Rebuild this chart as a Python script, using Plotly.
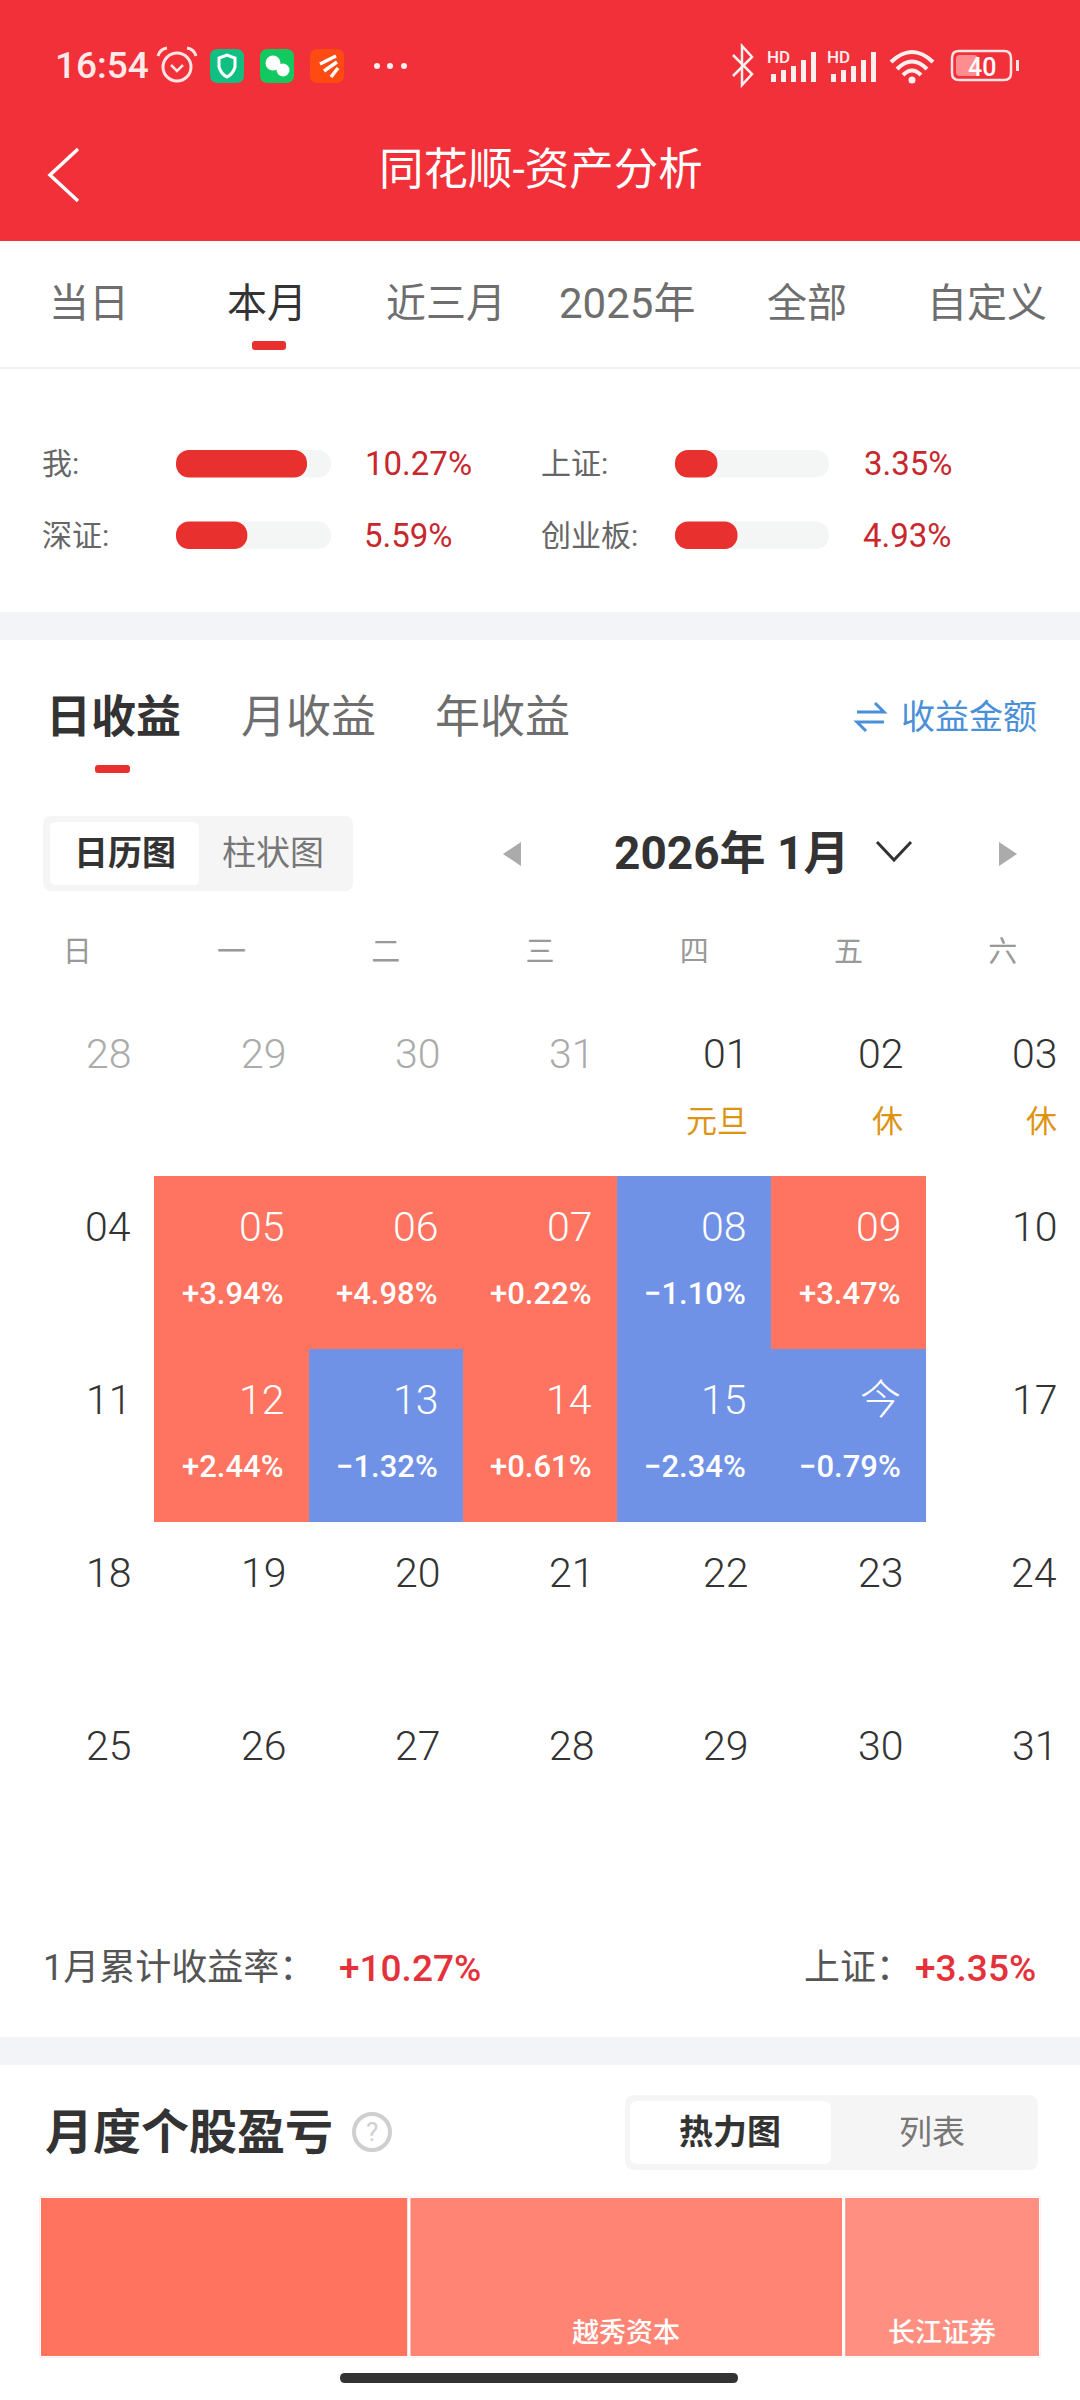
import plotly.graph_objects as go

W, H = 1080, 2400
CJK = "Noto Sans CJK SC"
FONT = "Roboto, 'Noto Sans CJK SC', sans-serif"
RED_TOP = "#F2303A"
BAND = "#F3F4F7"

# 1. Data
tabs = ["当日", "本月", "近三月", "2025年", "全部", "自定义"]
compare_names = ["我:", "深证:", "上证:", "创业板:"]
compare_values = [10.27, 5.59, 3.35, 4.93]
compare_axis_max = 12.15

weekdays = ["日", "一", "二", "三", "四", "五", "六"]
day_labels = [
    ["28", "29", "30", "31", "01", "02", "03"],
    ["04", "05", "06", "07", "08", "09", "10"],
    ["11", "12", "13", "14", "15", "今", "17"],
    ["18", "19", "20", "21", "22", "23", "24"],
    ["25", "26", "27", "28", "29", "30", "31"],
]
day_returns = [
    [None, None, None, None, None, None, None],
    [None, 3.94, 4.98, 0.22, -1.10, 3.47, None],
    [None, 2.44, -1.32, 0.61, -2.34, -0.79, None],
    [None, None, None, None, None, None, None],
    [None, None, None, None, None, None, None],
]
holidays = {(0, 4): "元旦", (0, 5): "休", (0, 6): "休"}
grey_days = [(0, 0), (0, 1), (0, 2), (0, 3)]

stock_names = ["", "越秀资本", "长江证券"]
stock_weights = [368, 433, 196]
stock_colors = ["#FF735F", "#FF8474", "#FF9081"]


def rr(x0, y0, x1, y1, r):
    return (f"M{x0+r},{y0} L{x1-r},{y0} Q{x1},{y0} {x1},{y0+r} L{x1},{y1-r} Q{x1},{y1} {x1-r},{y1} "
            f"L{x0+r},{y1} Q{x0},{y1} {x0},{y1-r} L{x0},{y0+r} Q{x0},{y0} {x0+r},{y0} Z")


shapes = []
annots = []


def box(x0, y0, x1, y1, color):
    shapes.append(dict(type="rect", x0=x0, y0=y0, x1=x1, y1=y1, fillcolor=color, line_width=0, xref="x", yref="y"))


def round_box(x0, y0, x1, y1, r, color, line=None, lw=0):
    shapes.append(dict(type="path", path=rr(x0, y0, x1, y1, r), fillcolor=color, xref="x", yref="y",
                       line=dict(color=line or "rgba(0,0,0,0)", width=lw)))


def stroke(path, color, width):
    shapes.append(dict(type="path", path=path, xref="x", yref="y", line=dict(color=color, width=width)))


def dot(cx, cy, r, fill, line=None, lw=0):
    shapes.append(dict(type="circle", x0=cx-r, x1=cx+r, y0=cy-r, y1=cy+r, fillcolor=fill, xref="x", yref="y",
                       line=dict(color=line or "rgba(0,0,0,0)", width=lw)))


def label(x, y, text, size, color, anchor="center", weight=400, family=FONT):
    annots.append(dict(x=x, y=y, xref="x", yref="y", text=text, showarrow=False, xanchor=anchor, yanchor="middle",
                       font=dict(size=size, color=color, family=family, weight=weight)))


# 2. Phone chrome
box(0, 0, W, 241, RED_TOP)
label(53, 65, "16:54", 37, "#FFE9E9", "left", 500)
# alarm clock
dot(177, 67, 14, "rgba(0,0,0,0)", "#FFE4E4", 3)
stroke("M158,56 Q160,49 167,48", "#FFE4E4", 3)
stroke("M187,48 Q194,49 196,56", "#FFE4E4", 3)
stroke("M171,65 L177,71 L183,65", "#FFE4E4", 2.5)
# app icons
round_box(210, 49, 244, 83, 8, "#12BF83")
stroke("M219,58 L227,55 L235,58 L235,67 Q233,74 227,77 Q221,74 219,67 Z", "#FFFFFF", 3)
round_box(260, 49, 294, 83, 8, "#12C95F")
dot(273, 63, 7.5, "#FFFFFF")
dot(283, 70, 6.5, "#FFFFFF")
round_box(310, 49, 344, 83, 8, "#FF4A12")
stroke("M320,64 L336,56 M324,71 L337,62 M331,77 L338,68", "#FFFFFF", 3.5)
for dx in [377, 390, 404]:
    dot(dx, 66, 3, "#FFF0F0")
# bluetooth
stroke("M733,55 L752,74 L742,85 L742,46 L752,57 L733,76", "#FFF0F0", 2.5)
# signal groups
for x0 in [770, 830]:
    label(x0 + 8, 57, "HD", 17, "#FFF0F0", "center", 500)
    for i, top in enumerate([74, 70, 66, 60, 52]):
        box(x0 + 1 + i * 10, top, x0 + 6 + i * 10, 82, "#FFF0F0")
# wifi
stroke("M891,62 Q912,42 933,62", "#FFF0F0", 4)
stroke("M897,69 Q912,54 927,69", "#FFF0F0", 4)
stroke("M903,75 Q912,66 921,75", "#FFF0F0", 4)
dot(912, 80, 3.5, "#FFF0F0")
# battery
round_box(952, 51, 1011, 80, 7, "rgba(0,0,0,0)", "#FFE4E4", 2.5)
round_box(956, 55, 978, 76, 4, "#FF8D8F")
box(1016, 60, 1019, 71, "#FFE4E4")
label(982, 67, "40", 25, "#FFFFFF", "center", 500)

stroke("M78,149 L50,175 L78,201", "#FFFFFF", 3.5)
label(541, 170, "同花顺-资产分析", 44.5, "#FFFFFF")

# 3. Period tabs
for name, cx in zip(tabs, [89, 267, 446, 627, 807, 987]):
    label(cx, 303, name, 42 if name == "2025年" else 40, "#333333" if name == "本月" else "#6E6E6E")
round_box(252, 341, 286, 350, 3, "#E8302F")
box(0, 367, W, 369, "#F1F1F3")

# comparison row text, bars come from traces below
for name, val, lx, vx, cy in zip(compare_names, compare_values, [40, 40, 539, 539], [363, 362, 862, 861],
                                 [463, 535, 463, 535]):
    label(lx, cy, name, 30, "#666666", "left")
    label(vx, cy, f"{val:.2f}%", 33, "#C8282D", "left")

box(0, 612, W, 640, BAND)

# 4. Income section header
label(44, 717, "日收益", 45, "#333333", "left", 700)
label(239, 717, "月收益", 45, "#6E6E6E", "left")
label(433, 717, "年收益", 45, "#6E6E6E", "left")
round_box(95, 765, 130, 773, 3, "#E8302F")
stroke("M857,712 L884,712 L875,703", "#4A90D9", 3)
stroke("M884,722 L857,722 L866,731", "#4A90D9", 3)
label(899, 717, "收益金额", 34, "#4A90D9", "left")

round_box(43, 816, 353, 891, 9, "#F5F5F5")
round_box(50, 822, 199, 885, 6, "#FFFFFF")
label(125, 853, "日历图", 34, "#333333", "center", 700)
label(273, 853, "柱状图", 34, "#777777")

shapes.append(dict(type="path", path="M521,842 L503,854 L521,866 Z", fillcolor="#ABABAB", line_width=0, xref="x", yref="y"))
shapes.append(dict(type="path", path="M999,842 L1017,854 L999,866 Z", fillcolor="#ABABAB", line_width=0, xref="x", yref="y"))
label(612, 853, "2026年 1月", 46, "#333333", "left", 700)
stroke("M877,842 L894,860 L911,842", "#333333", 3)

# 5. Calendar texts, placed on the calendar axes
for r, row in enumerate(day_labels):
    for c, txt in enumerate(row):
        val = day_returns[r][c]
        color = "#FFFFFF" if val is not None else ("#ABABAB" if (r, c) in grey_days else "#333333")
        annots.append(dict(x=c + 0.5, y=r, xref="x5", yref="y5", text=txt, showarrow=False, xanchor="right",
                           yanchor="middle", xshift=-23 if val is not None else -21, yshift=36,
                           font=dict(size=41, color=color, family=FONT, weight=300)))
        if val is not None:
            annots.append(dict(x=c + 0.5, y=r, xref="x5", yref="y5", text=f"{val:+.2f}%".replace("-", "−"),
                               showarrow=False, xanchor="right", yanchor="middle", xshift=-23, yshift=-31,
                               font=dict(size=31, color="#FFFFFF", family=FONT, weight=500)))
        if (r, c) in holidays:
            annots.append(dict(x=c + 0.5, y=r, xref="x5", yref="y5", text=holidays[(r, c)], showarrow=False,
                               xanchor="right", yanchor="middle", xshift=-21, yshift=-32,
                               font=dict(size=31, color="#DD9414", family=FONT)))

# 6. Summary line
label(41, 1968, "1月累计收益率：", 36, "#555555", "left")
label(337, 1968, "+10.27%", 37, "#E5323A", "left", 500)
label(802, 1968, "上证：", 36, "#555555", "left")
label(1038, 1968, "+3.35%", 37, "#E5323A", "right", 500)
box(0, 2037, W, 2065, BAND)

# 7. Monthly stock block
label(43, 2132, "月度个股盈亏", 48, "#333333", "left", 700)
dot(372, 2132, 18, "rgba(0,0,0,0)", "#CFCFCF", 4)
label(372, 2132, "?", 26, "#CFCFCF")
round_box(625, 2095, 1038, 2170, 10, "#F5F5F5")
round_box(630, 2101, 831, 2164, 8, "#FFFFFF")
label(730, 2132, "热力图", 34, "#333333", "center", 700)
label(932, 2132, "列表", 33, "#777777")
round_box(340, 2373, 738, 2383, 5, "#333333")

fig = go.Figure()


# explicit base makes plotly round both ends of the bar
def pill(names, vals, color, axis_id):
    fig.add_trace(go.Bar(x=vals, base=[0] * len(vals), y=names, orientation="h", width=0.385,
                         xaxis="x" + axis_id, yaxis="y" + axis_id,
                         marker=dict(color=color, cornerradius=14, line_width=0), hoverinfo="skip"))


# comparison bars: two little charts sharing one scale
for axis_id, names, vals in [("2", compare_names[:2], compare_values[:2]), ("3", compare_names[2:], compare_values[2:])]:
    pill(names, [compare_axis_max] * 2, "#F4F6F6", axis_id)
    pill(names, vals, "#E8302F", axis_id)

# stock strip
left = 0
for name, w, col in zip(stock_names, stock_weights, stock_colors):
    fig.add_trace(go.Bar(x=[w], y=[0], base=left, orientation="h", width=1, xaxis="x4", yaxis="y4",
                         marker=dict(color=col, line=dict(color="#FFFFFF", width=3)), hoverinfo="skip"))
    if name:
        annots.append(dict(x=left + w / 2, y=-0.35, xref="x4", yref="y4", text=name, showarrow=False,
                           font=dict(size=27, color="#FFFFFF", family=FONT, weight=500)))
    left += w

# calendar
fig.add_trace(go.Heatmap(z=day_returns, x=list(range(7)), y=list(range(5)), xaxis="x5", yaxis="y5", zmin=-5, zmax=5,
                         colorscale=[[0, "#6F91E6"], [0.5, "#6F91E6"], [0.5, "#FF7460"], [1, "#FF7460"]],
                         showscale=False, hoverinfo="skip"))


def ydom(top, bottom):
    return [1 - bottom / H, 1 - top / H]


hidden = dict(visible=False, fixedrange=True)
fig.update_layout(
    width=W, height=H, margin=dict(l=0, r=0, t=0, b=0), paper_bgcolor="#FFFFFF", plot_bgcolor="rgba(0,0,0,0)",
    showlegend=False, barmode="overlay", shapes=shapes, annotations=annots,
    xaxis=dict(range=[0, W], domain=[0, 1], **hidden),
    yaxis=dict(range=[H, 0], domain=[0, 1], **hidden),
    xaxis2=dict(range=[0, compare_axis_max], domain=[176 / W, 331 / W], anchor="y2", **hidden),
    yaxis2=dict(type="category", range=[1.5, -0.5], domain=ydom(428, 571), anchor="x2", **hidden),
    xaxis3=dict(range=[0, compare_axis_max], domain=[675 / W, 829 / W], anchor="y3", **hidden),
    yaxis3=dict(type="category", range=[1.5, -0.5], domain=ydom(428, 571), anchor="x3", **hidden),
    xaxis4=dict(range=[0, sum(stock_weights)], domain=[39.5 / W, 1040.5 / W], anchor="y4", **hidden),
    yaxis4=dict(range=[-0.5, 0.5], domain=ydom(2196.5, 2357.5), anchor="x4", **hidden),
    xaxis5=dict(range=[-0.5, 6.5], domain=[0, 1], anchor="y5", side="top", tickmode="array",
                tickvals=list(range(7)), ticktext=weekdays, ticks="outside", ticklen=28,
                tickcolor="rgba(0,0,0,0)", showgrid=False, zeroline=False, showline=False, fixedrange=True,
                tickfont=dict(size=29, color="#999999", family=CJK)),
    yaxis5=dict(range=[4.5, -0.5], domain=ydom(1003, 1868), anchor="x5", **hidden),
)

fig.write_html("out.html", config=dict(displayModeBar=False), post_script="document.body.style.margin='0';")
